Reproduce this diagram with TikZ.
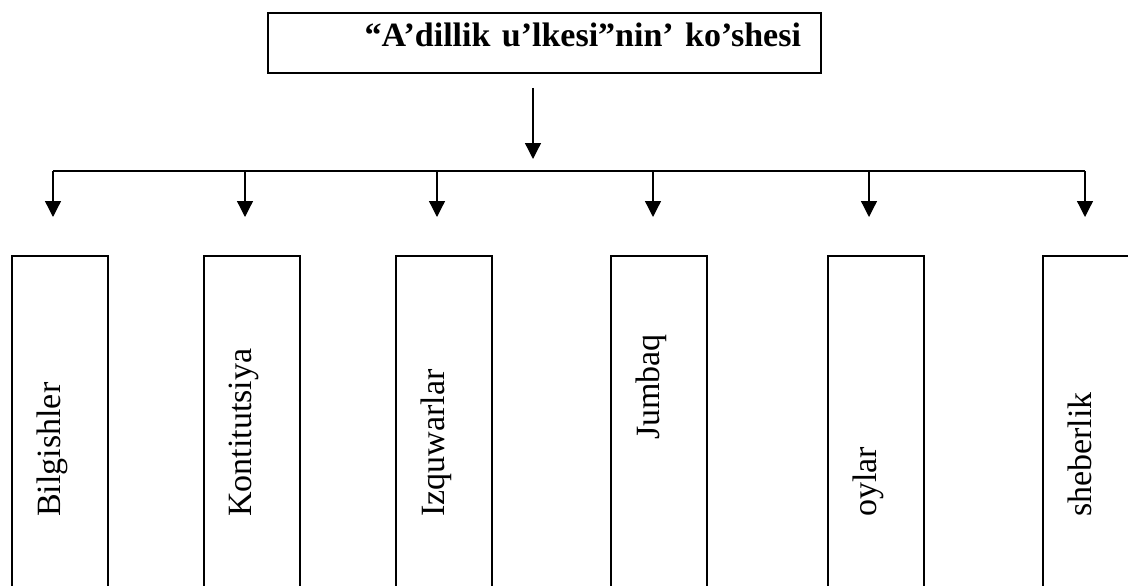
\documentclass[tikz,border=0pt]{standalone}
\usepackage{fontspec}
\setmainfont{Liberation Serif}
\usetikzlibrary{arrows.meta}

\begin{document}
\begin{tikzpicture}[
  x=1pt, y=-1pt,
  link/.style={draw, line width=1.3pt, -{Triangle[length=16pt,width=16pt]}},
  bus/.style={draw, line width=1.3pt},
  titlebox/.style={draw, line width=2pt, minimum width=553pt, minimum height=60pt,
    inner xsep=20pt, text width=513pt, align=right, text depth=17pt,
    font=\fontsize{34}{40}\selectfont\bfseries},
  item/.style={draw, line width=2pt, minimum width=96pt, minimum height=364pt},
  itemtext/.style={rotate=90, anchor=base west, inner sep=0pt,
    font=\fontsize{34}{40}\selectfont}
]
\useasboundingbox (0,0) rectangle (1128,586);
\clip (0,0) rectangle (1128,586);

\node[titlebox] (title) at (544.5,43) {“A’dillik u’lkesi”nin’ ko’shesi};

\coordinate (hub) at (533,171);
\draw[link, shorten <=14pt, shorten >=12pt] (title.south -| hub) -- (hub);

\foreach \x/\word/\y [count=\i] in {60/Bilgishler/517, 251.5/Kontitutsiya/517,
    444/Izquwarlar/517, 659/Jumbaq/440, 876/oylar/517, 1091/sheberlik/517} {
  \node[item] (box\i) at (\x,438) {};
  \node[itemtext] (txt\i) at (\x,\y) {\word};
}

\foreach \x [count=\i] in {53,245,437,653,869,1085}
  \coordinate (bus\i) at (\x,171);
\draw[bus] (bus1) -- (bus6);
\foreach \i in {1,...,6}
  \draw[link, shorten >=38pt] (bus\i) -- (bus\i |- box\i.north);

\end{tikzpicture}
\end{document}
